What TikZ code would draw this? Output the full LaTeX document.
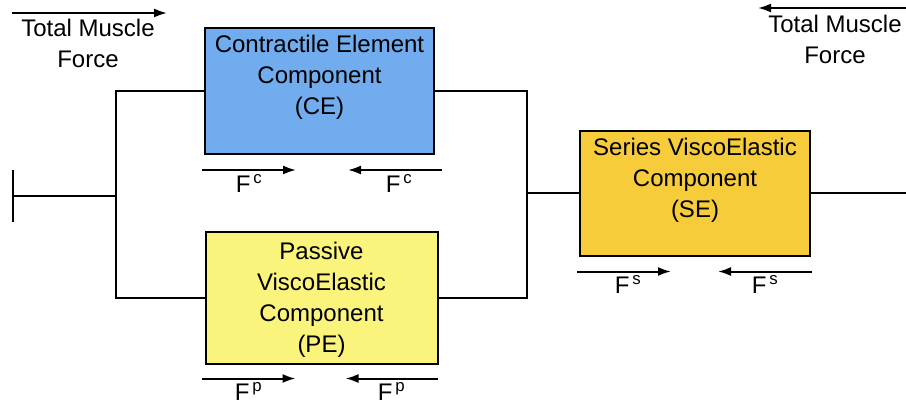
\documentclass[tikz,border=0pt]{standalone}
\usepackage{fontspec}
\setmainfont{Liberation Sans}
\usepackage{tikz}
\usepackage{xcolor}
\usetikzlibrary{arrows.meta,positioning}

\definecolor{ceblue}{RGB}{112,172,238}
\definecolor{peyellow}{RGB}{250,244,125}
\definecolor{segold}{RGB}{246,204,58}

\tikzset{
  comp/.style={draw, line width=2pt, inner sep=0pt},
  comptext/.style={align=center, inner sep=0pt, anchor=north},
  wire/.style={line width=2pt},
  force/.style={line width=2pt, ->},
  flabel/.style={below, inner sep=3pt}
}

\begin{document}
\begin{tikzpicture}[x=1pt, y=-1pt, >={Latex[length=13pt,width=9pt]},
    font=\fontsize{24}{31}\selectfont]
    \useasboundingbox (0,0) rectangle (906,407);

    % the three components
    \node[comp, fill=ceblue, minimum width=229pt, minimum height=126pt] (CE) at (319.5,91) {};
    \node[comp, fill=peyellow, minimum width=232pt, minimum height=132pt] (PE) at (321.5,297.5) {};
    \node[comp, fill=segold, minimum width=230pt, minimum height=125pt] (SE) at (695,193) {};

    \node[comptext] (CEtext) at ([yshift=-8pt]CE.north) {Contractile Element\\Component\\(CE)};
    \node[comptext] (PEtext) at ([yshift=-11pt]PE.north) {Passive\\ViscoElastic\\Component\\(PE)};
    \node[comptext] (SEtext) at ([yshift=-8pt]SE.north) {Series ViscoElastic\\Component\\(SE)};

    % wiring
    \coordinate (wall) at (13,196);
    \coordinate (ljoin) at (116,196);
    \coordinate (rjoin) at (527,193);
    \coordinate (rend) at (906,193);
    \draw[wire] (wall) ++(0,-26) -- ++(0,52);
    \draw[wire] (wall) -- (ljoin);
    \draw[wire] (CE.west) -| (ljoin) |- (PE.west);
    \draw[wire] (CE.east) -| (rjoin) |- (PE.east);
    \draw[wire] (rjoin) -- (SE.west);
    \draw[wire] (SE.east) -- (rend);

    % total muscle force
    \coordinate (tl1) at (12,13);
    \coordinate (tl2) at (167,13);
    \coordinate (tr1) at (906,8);
    \coordinate (tr2) at (758,8);
    \draw[force] (tl1) -- (tl2);
    \draw[force] (tr1) -- (tr2);
    \node[align=center, anchor=north] (tmfl) at (88,16) {Total Muscle\\Force};
    \node[align=center, anchor=north] (tmfr) at (835,12) {Total Muscle\\Force};

    % component forces
    \draw[force] ([shift={(-2,15)}]CE.south west) -- ++(94,0) node[flabel, midway] {F\textsuperscript{\,c}};
    \draw[force] ([shift={(7,15)}]CE.south east) -- ++(-94,0) node[flabel, midway, xshift=4pt] {F\textsuperscript{\,c}};
    \draw[force] ([shift={(-2,15)}]SE.south west) -- ++(94,0) node[flabel, midway, xshift=4pt] {F\textsuperscript{\,s}};
    \draw[force] ([shift={(1,15)}]SE.south east) -- ++(-94,0) node[flabel, midway] {F\textsuperscript{\,s}};
    \draw[force] ([shift={(-3,14)}]PE.south west) -- ++(94,0) node[flabel, midway] {F\textsuperscript{\,p}};
    \draw[force] ([shift={(-1,14)}]PE.south east) -- ++(-92,0) node[flabel, midway] {F\textsuperscript{\,p}};
\end{tikzpicture}
\end{document}
